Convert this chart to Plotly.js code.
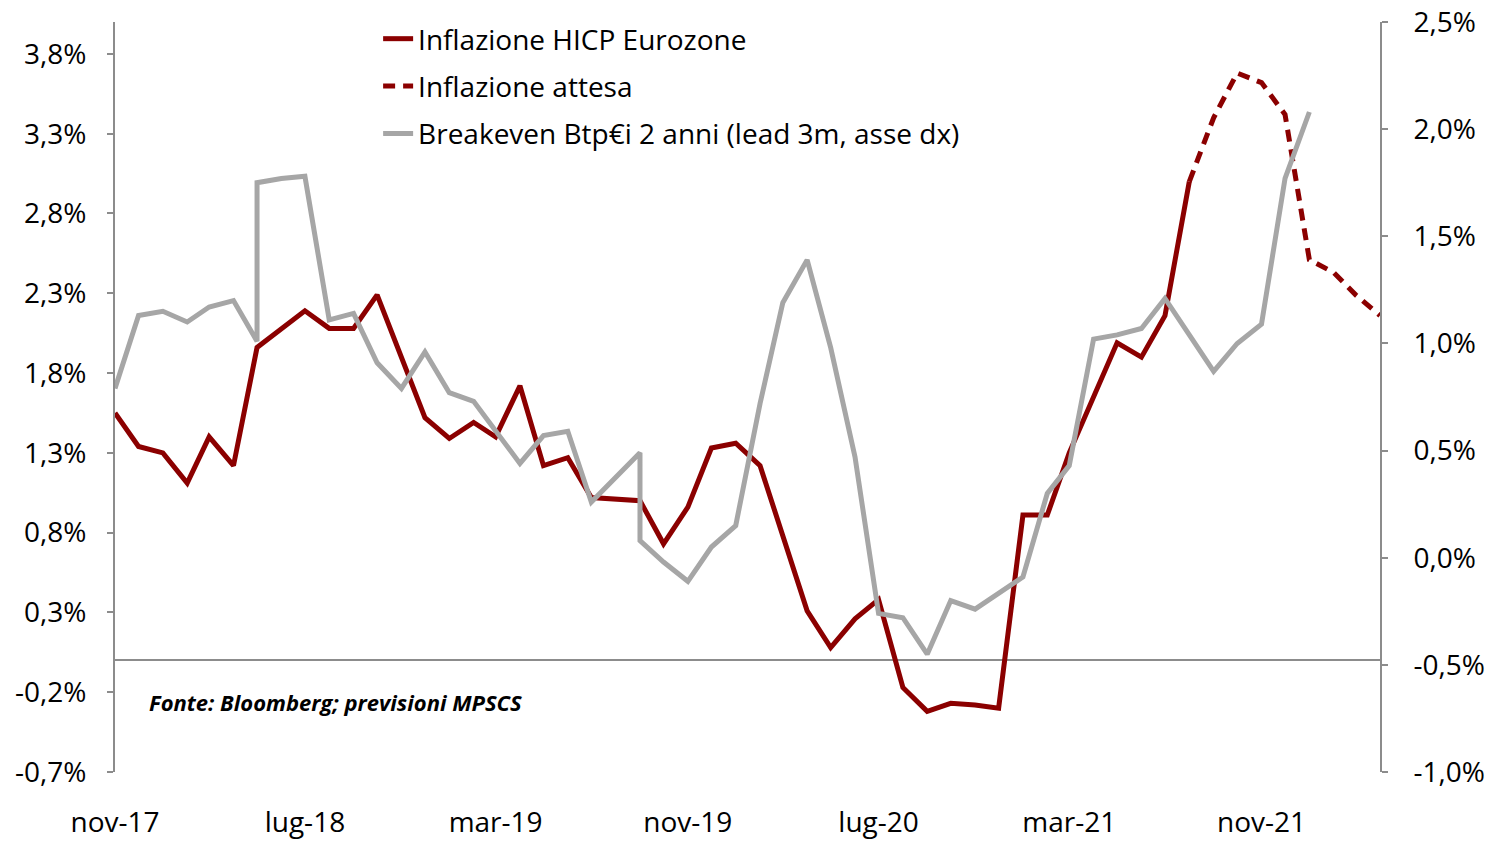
<!DOCTYPE html>
<html>
<head>
<meta charset="utf-8">
<script src="https://cdn.plot.ly/plotly-3.0.1.min.js"></script>
<style>
html,body{margin:0;padding:0;background:#ffffff;}
#chart{width:1491px;height:841px;}
</style>
</head>
<body>
<div id="chart"></div>
<script>
// ---- Data ----
const hicpDates = [
  '2017-11-01','2017-12-01',
  '2018-01-01','2018-02-01','2018-03-01','2018-04-01','2018-05-01','2018-06-01',
  '2018-07-01','2018-08-01','2018-09-01','2018-10-01','2018-11-01','2018-12-01',
  '2019-01-01','2019-02-01','2019-03-01','2019-04-01','2019-05-01','2019-06-01',
  '2019-07-01','2019-08-01','2019-09-01','2019-10-01','2019-11-01','2019-12-01',
  '2020-01-01','2020-02-01','2020-03-01','2020-04-01','2020-05-01','2020-06-01',
  '2020-07-01','2020-08-01','2020-09-01','2020-10-01','2020-11-01','2020-12-01',
  '2021-01-01','2021-02-01','2021-03-01','2021-04-01','2021-05-01','2021-06-01',
  '2021-07-01','2021-08-01'
];
const hicpValues = [
  1.55, 1.34,
  1.30, 1.11, 1.40, 1.22, 1.96, 2.08,
  2.19, 2.08, 2.08, 2.29, 1.90, 1.52,
  1.39, 1.49, 1.40, 1.72, 1.22, 1.27,
  1.02, 1.01, 1.00, 0.73, 0.96, 1.33,
  1.36, 1.22, 0.77, 0.31, 0.08, 0.26,
  0.38, -0.17, -0.32, -0.27, -0.28, -0.30,
  0.91, 0.91, 1.30, 1.65, 1.99, 1.90,
  2.16, 3.00
];

const expectedDates = [
  '2021-08-01','2021-09-01','2021-10-01','2021-11-01','2021-12-01',
  '2022-01-01','2022-02-01','2022-03-01','2022-04-01'
];
const expectedValues = [3.00, 3.40, 3.68, 3.62, 3.42, 2.51, 2.43, 2.29, 2.16];

const breakevenDates = [
  '2017-11-01','2017-12-01',
  '2018-01-01','2018-02-01','2018-03-01','2018-04-01','2018-05-01','2018-05-01','2018-06-01',
  '2018-07-01','2018-08-01','2018-09-01','2018-10-01','2018-11-01','2018-12-01',
  '2019-01-01','2019-02-01','2019-03-01','2019-04-01','2019-05-01','2019-06-01',
  '2019-07-01','2019-08-01','2019-09-01','2019-09-01','2019-10-01','2019-11-01','2019-12-01',
  '2020-01-01','2020-02-01','2020-03-01','2020-04-01','2020-05-01','2020-06-01',
  '2020-07-01','2020-08-01','2020-09-01','2020-10-01','2020-11-01','2020-12-01',
  '2021-01-01','2021-02-01','2021-03-01','2021-04-01','2021-05-01','2021-06-01',
  '2021-07-01','2021-08-01','2021-09-01','2021-10-01','2021-11-01','2021-12-01',
  '2022-01-01'
];
const breakevenValues = [
  0.79, 1.13,
  1.15, 1.10, 1.17, 1.20, 1.01, 1.75, 1.77,
  1.78, 1.11, 1.14, 0.91, 0.79, 0.96,
  0.77, 0.73, 0.59, 0.44, 0.57, 0.59,
  0.26, 0.375, 0.49, 0.08, -0.02, -0.11, 0.05,
  0.15, 0.72, 1.19, 1.39, 0.98, 0.47,
  -0.26, -0.28, -0.45, -0.20, -0.24, -0.165,
  -0.09, 0.30, 0.43, 1.02, 1.04, 1.07,
  1.21, 1.04, 0.87, 1.00, 1.09, 1.77,
  2.08
];

const seriesNames = [
  'Inflazione HICP Eurozone',
  'Inflazione attesa',
  'Breakeven Btp€i 2 anni (lead 3m, asse dx)'
];
const xTickDates = ['2017-11-01','2018-07-01','2019-03-01','2019-11-01','2020-07-01','2021-03-01','2021-11-01'];
const xTickLabels = ['nov-17','lug-18','mar-19','nov-19','lug-20','mar-21','nov-21'];
const leftTickValues = [-0.7, -0.2, 0.3, 0.8, 1.3, 1.8, 2.3, 2.8, 3.3, 3.8];
const leftTickLabels = ['-0,7%','-0,2%','0,3%','0,8%','1,3%','1,8%','2,3%','2,8%','3,3%','3,8%'];
const rightTickValues = [-1.0, -0.5, 0.0, 0.5, 1.0, 1.5, 2.0, 2.5];
const rightTickLabels = ['-1,0%','-0,5%','0,0%','0,5%','1,0%','1,5%','2,0%','2,5%'];
const sourceNote = 'Fonte: Bloomberg; previsioni MPSCS';

// ---- Styles ----
const RED = '#8b0000';
const GREY = '#a6a6a6';
const AXIS = '#8c8c8c';
const FONT = 'Open Sans, Noto Sans, sans-serif';

const traces = [
  {
    x: hicpDates, y: hicpValues, name: seriesNames[0], type: 'scatter', mode: 'lines',
    line: {color: RED, width: 5}, yaxis: 'y', legendgroup: 'a'
  },
  {
    x: expectedDates, y: expectedValues, name: seriesNames[1], type: 'scatter', mode: 'lines',
    line: {color: RED, width: 5, dash: '12px,8px'}, yaxis: 'y', legendgroup: 'b'
  },
  {
    x: breakevenDates, y: breakevenValues, name: seriesNames[2], type: 'scatter', mode: 'lines',
    line: {color: GREY, width: 5}, yaxis: 'y2', legendgroup: 'c'
  }
];

const layout = {
  width: 1491, height: 841,
  paper_bgcolor: '#ffffff', plot_bgcolor: '#ffffff',
  margin: {l: 115, r: 111, t: 22, b: 69},
  separators: ', ',
  font: {family: FONT, size: 28, color: '#000000'},
  showlegend: true,
  legend: {
    x: 0.208, xanchor: 'left', y: 1.0107, yanchor: 'top',
    bgcolor: 'rgba(255,255,255,0)', borderwidth: 0,
    font: {family: FONT, size: 28, color: '#000000'},
    tracegroupgap: 8, traceorder: 'grouped'
  },
  xaxis: {
    type: 'date',
    range: ['2017-11-01', '2022-04-01'],
    tickmode: 'array', tickvals: xTickDates, ticktext: xTickLabels,
    showgrid: false, showline: false, zeroline: false, ticks: '',
    ticklabelstandoff: 31,
    tickfont: {family: FONT, size: 28, color: '#000000'}
  },
  yaxis: {
    range: [-0.7, 4.0],
    tickmode: 'array', tickvals: leftTickValues, ticktext: leftTickLabels,
    showgrid: false, showline: true, linecolor: AXIS, linewidth: 2,
    ticks: 'outside', ticklen: 6, tickwidth: 2, tickcolor: AXIS,
    zeroline: true, zerolinecolor: AXIS, zerolinewidth: 2,
    ticklabelstandoff: 15,
    tickfont: {family: FONT, size: 28, color: '#000000'}
  },
  yaxis2: {
    overlaying: 'y', side: 'right',
    range: [-1.0, 2.5],
    tickmode: 'array', tickvals: rightTickValues, ticktext: rightTickLabels,
    showgrid: false, showline: true, linecolor: AXIS, linewidth: 2,
    ticks: 'outside', ticklen: 6, tickwidth: 2, tickcolor: AXIS,
    zeroline: false,
    ticklabelstandoff: 20,
    tickfont: {family: FONT, size: 28, color: '#000000'}
  },
  annotations: [
    {
      text: '<b><i>' + sourceNote + '</i></b>',
      xref: 'paper', yref: 'paper', x: 0.025, y: 0.094,
      xanchor: 'left', yanchor: 'middle', showarrow: false,
      font: {family: FONT, size: 22, color: '#000000'}
    }
  ]
};

Plotly.newPlot('chart', traces, layout, {displayModeBar: false, staticPlot: true});
</script>
</body>
</html>
